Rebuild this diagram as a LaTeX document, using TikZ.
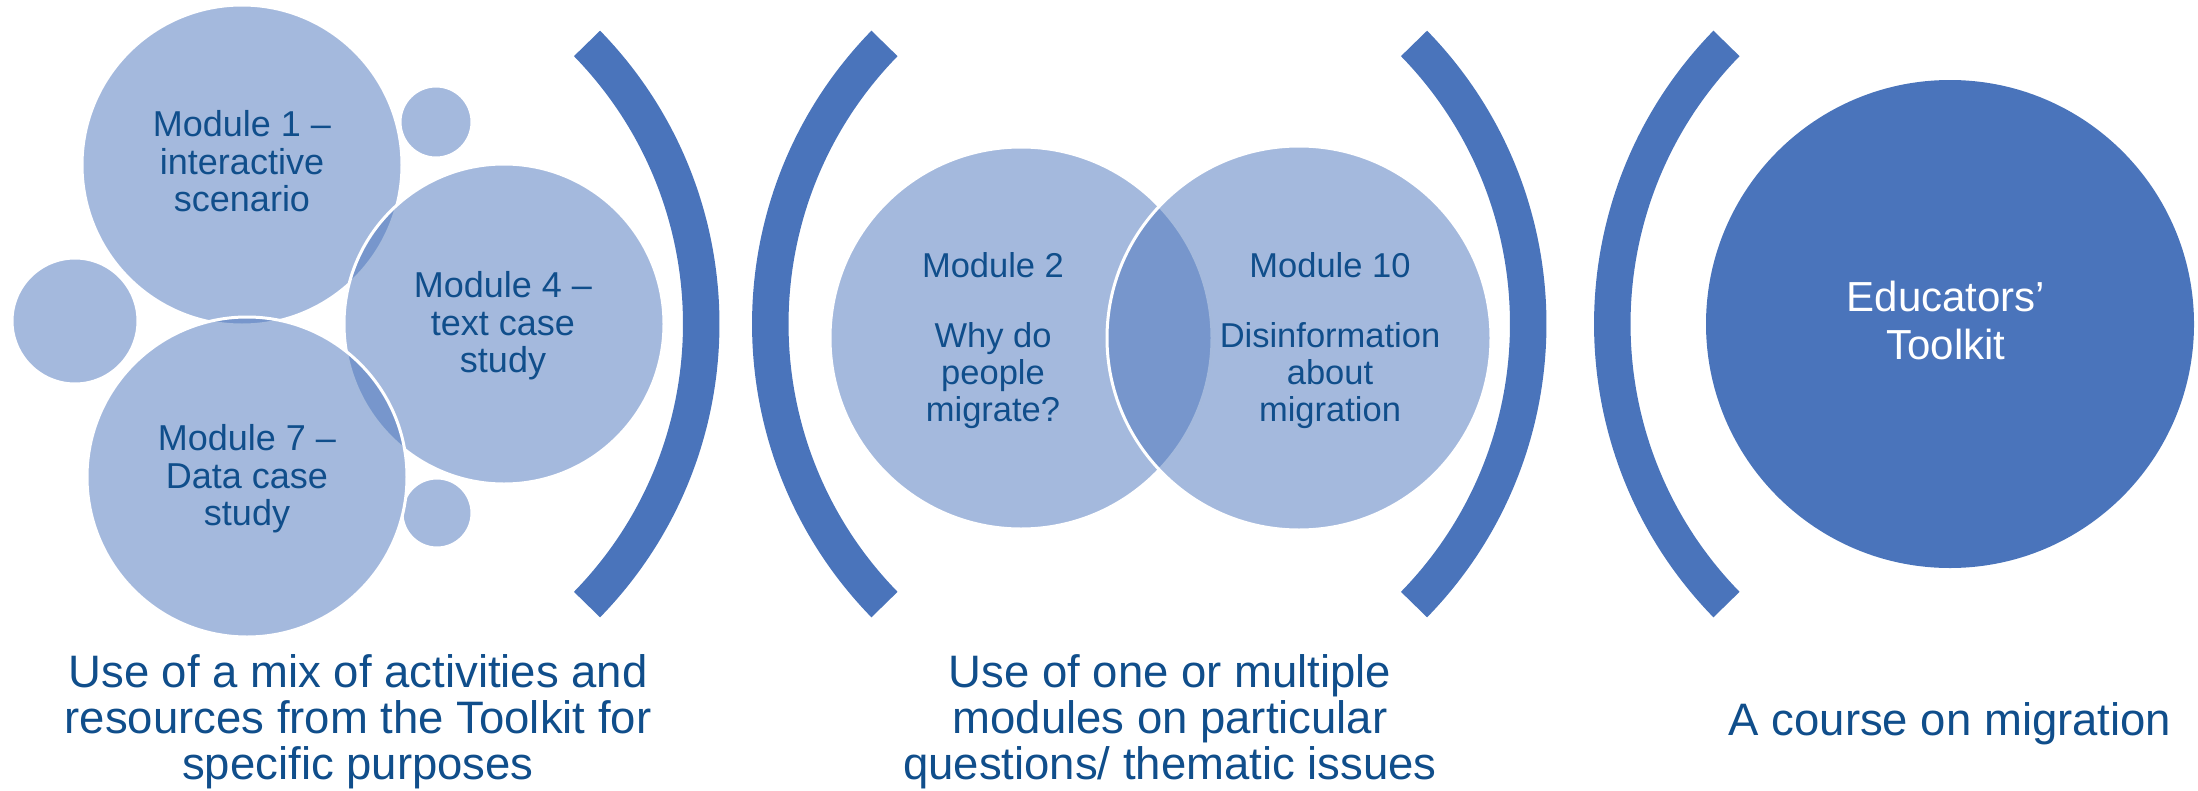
\documentclass[tikz,border=0pt]{standalone}
\usepackage{fontspec}
\setmainfont{Liberation Sans}
\usetikzlibrary{calc}
\definecolor{accent}{RGB}{74,116,187}
\definecolor{txt}{RGB}{16,78,139}
\begin{document}
\begin{tikzpicture}[x=1pt,y=1pt,
  bubble/.style={circle, inner sep=0pt, fill=accent, fill opacity=0.5, draw=white, draw opacity=1, line width=3pt},
  hub/.style={circle, inner sep=0pt, fill=accent, draw=none},
  arcband/.style={fill=accent},
  ctext/.style={text=txt, align=center, inner sep=0pt, anchor=south, text depth=0pt, font=\fontsize{36}{37.5}\selectfont},
  vtext/.style={ctext, font=\fontsize{34.5}{37}\selectfont},
  htext/.style={ctext, text=white, font=\fontsize{42}{48}\selectfont},
  btext/.style={ctext, font=\fontsize{45.5}{46}\selectfont}
]
\useasboundingbox (0,0) rectangle (2198,-790);

% left cluster
\node[bubble, minimum size=320] (c1) at (242,-165) {};
\node[bubble, minimum size=72] (s1) at (436,-122) {};
\node[bubble, minimum size=126] (s2) at (75,-321) {};
\node[bubble, minimum size=70] (s3) at (437,-513) {};
\node[bubble, minimum size=320] (c4) at (504,-324) {};
\node[bubble, minimum size=320] (c7) at (247,-477) {};

\node[ctext] (t1) at (242,-212) {Module 1 –\\interactive\\scenario};
\node[ctext] (t4) at (503,-373) {Module 4 –\\text case\\study};
\node[ctext] (t7) at (247,-526) {Module 7 –\\Data case\\study};

% brackets
\coordinate (b1) at (299.5,-324);
\coordinate (b2) at (1172,-324);
\coordinate (b3) at (1126.5,-324);
\coordinate (b4) at (2014,-324);
\foreach \b in {b1,b3}{
  \fill[arcband] ($(\b)+(-44.3:383.5)$) arc[start angle=-44.3,end angle=44.3,radius=383.5]
    -- ($(\b)+(44.3:420)$) arc[start angle=44.3,end angle=-44.3,radius=420] -- cycle;
}
\foreach \b in {b2,b4}{
  \fill[arcband] ($(\b)+(135.7:383.5)$) arc[start angle=135.7,end angle=224.3,radius=383.5]
    -- ($(\b)+(224.3:420)$) arc[start angle=224.3,end angle=135.7,radius=420] -- cycle;
}

% venn
\node[bubble, minimum size=382] (v2) at (1021,-338) {};
\node[bubble, minimum size=384] (v10) at (1299,-338) {};
\node[vtext] (t2) at (993,-422) {Module 2\\[33pt]Why do\\people\\migrate?};
\node[vtext] (t10) at (1330,-422) {Module 10\\[33pt]Disinformation\\about\\migration};

% hub
\node[hub, minimum size=488] (h) at (1950,-324) {};
\node[htext] (th) at (1946,-360) {Educators’\\Toolkit};

% captions
\node[btext] (l1) at (358,-780) {Use of a mix of activities and\\resources from the Toolkit for\\specific purposes};
\node[btext] (l2) at (1170,-780) {Use of one or multiple\\modules on particular\\questions/ thematic issues};
\node[btext] (l3) at (1950,-736) {A course on migration};
\end{tikzpicture}
\end{document}
